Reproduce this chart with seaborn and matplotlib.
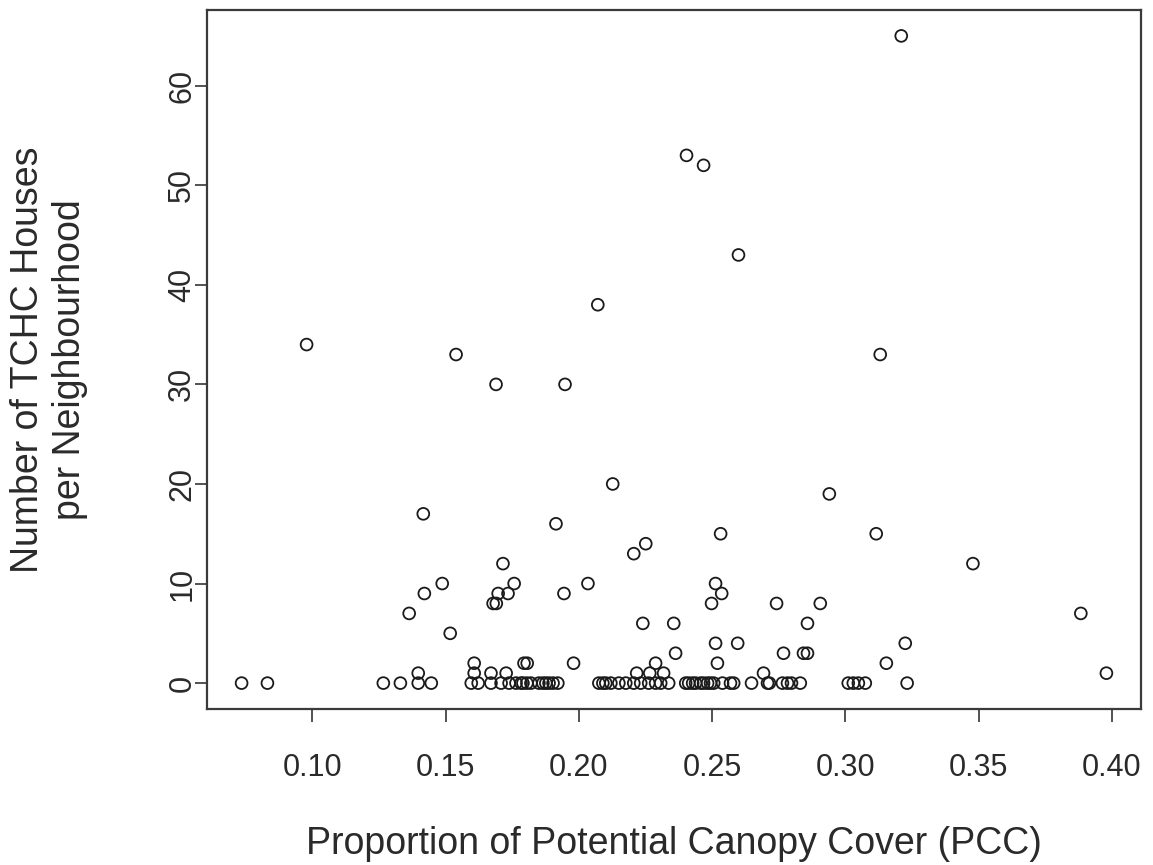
import matplotlib
matplotlib.use("Agg")
import matplotlib.pyplot as plt
from matplotlib import font_manager
import seaborn as sns
import pandas as pd

# Proportion of Potential Canopy Cover (x) and number of TCHC houses (y)
pcc_nonzero = [0.0978, 0.3210, 0.2404, 0.2468, 0.2599, 0.2071, 0.1539, 0.3131,
               0.1689, 0.1948, 0.2127, 0.3479, 0.2940, 0.1416, 0.2532, 0.3116,
               0.1914, 0.2251, 0.2206, 0.1715, 0.1487, 0.1757, 0.2034, 0.2513,
               0.1420, 0.1697, 0.1734, 0.1944, 0.2536, 0.1678, 0.1690, 0.2498,
               0.2742, 0.2906, 0.1363, 0.3884, 0.2240, 0.2356, 0.2858, 0.1517,
               0.2513, 0.2596, 0.3225, 0.2363, 0.2768, 0.2843, 0.2858, 0.1607,
               0.1794, 0.1806, 0.1980, 0.2288, 0.2520, 0.3154, 0.1397, 0.1607,
               0.1670, 0.1727, 0.2217, 0.2266, 0.2318, 0.2693, 0.3980]
tchc_nonzero = [34, 65, 53, 52, 43, 38, 33, 33,
                30, 30, 20, 12, 19, 17, 15, 15,
                16, 14, 13, 12, 10, 10, 10, 10,
                9, 9, 9, 9, 9, 8, 8, 8,
                8, 8, 7, 7, 6, 6, 6, 5,
                4, 4, 4, 3, 3, 3, 3, 2,
                2, 2, 2, 2, 2, 2, 1, 1,
                1, 1, 1, 1, 1, 1, 1]
pcc_zero = [0.0734, 0.0831, 0.1266, 0.1330, 0.1397, 0.1446, 0.1596, 0.1622,
            0.1670, 0.1708, 0.1738, 0.1764, 0.1783, 0.1790, 0.1805, 0.1820,
            0.1850, 0.1865, 0.1876, 0.1888, 0.1903, 0.1921, 0.2075, 0.2090,
            0.2101, 0.2120, 0.2150, 0.2176, 0.2206, 0.2232, 0.2262, 0.2288,
            0.2307, 0.2337, 0.2401, 0.2412, 0.2427, 0.2438, 0.2457, 0.2468,
            0.2483, 0.2494, 0.2506, 0.2539, 0.2569, 0.2581, 0.2648, 0.2708,
            0.2715, 0.2764, 0.2783, 0.2798, 0.2831, 0.3011, 0.3030, 0.3049,
            0.3075, 0.3232]

x_ticks = [0.10, 0.15, 0.20, 0.25, 0.30, 0.35, 0.40]
x_tick_labels = ["0.10", "0.15", "0.20", "0.25", "0.30", "0.35", "0.40"]
y_ticks = [0, 10, 20, 30, 40, 50, 60]
x_label = "Proportion of Potential Canopy Cover (PCC)"
y_label = "Number of TCHC Houses\nper Neighbourhood"

df = pd.DataFrame({
    "pcc": pcc_nonzero + pcc_zero,
    "tchc": tchc_nonzero + [0] * len(pcc_zero),
})

sns.set_style("white")
plt.rcParams["font.family"] = ["Liberation Sans", "DejaVu Sans"]

installed = {f.name for f in font_manager.fontManager.ttflist}
tick_family = ["Liberation Sans Narrow", "Liberation Sans", "DejaVu Sans"] \
    if "Liberation Sans Narrow" in installed else ["Liberation Sans", "DejaVu Sans"]

fig = plt.figure(figsize=(11.53, 8.65), dpi=100)
ax = fig.add_axes([207 / 1153, 1 - 709 / 865, (1141 - 207) / 1153, (709 - 10) / 865])

sns.scatterplot(data=df, x="pcc", y="tchc", ax=ax, marker="o", s=72,
                facecolor="none", edgecolor="#1a1a1a", linewidth=1.3)

xmin, xmax = df["pcc"].min(), df["pcc"].max()
ymin, ymax = df["tchc"].min(), df["tchc"].max()
dx, dy = 0.04 * (xmax - xmin), 0.04 * (ymax - ymin)
ax.set_xlim(xmin - dx, xmax + dx)
ax.set_ylim(ymin - dy, ymax + dy)

ax.set_xticks(x_ticks)
ax.set_xticklabels(x_tick_labels, family=tick_family, fontsize=22)
ax.set_yticks(y_ticks)
ax.set_yticklabels([str(v) for v in y_ticks], rotation=90, va="center",
                   family=tick_family, fontsize=22)

ax.tick_params(axis="both", direction="out", length=9, width=1.3, color="#444444",
               labelcolor="#2a2a2a")
ax.tick_params(axis="x", bottom=True, pad=23)
ax.tick_params(axis="y", left=True, pad=-2)

for sp in ax.spines.values():
    sp.set_visible(True)
    sp.set_color("#3a3a3a")
    sp.set_linewidth(1.6)

ax.set_xlabel(x_label, fontsize=27, color="#2a2a2a", va="center")
ax.xaxis.set_label_coords(0.5, (709 - 844) / 699)
ax.set_ylabel(y_label, fontsize=27, color="#2a2a2a", linespacing=1.2, va="center")
ax.yaxis.set_label_coords((49 - 207) / 934, 0.5)
ax.grid(False)

fig.savefig("out.png", dpi=100, facecolor="white")
